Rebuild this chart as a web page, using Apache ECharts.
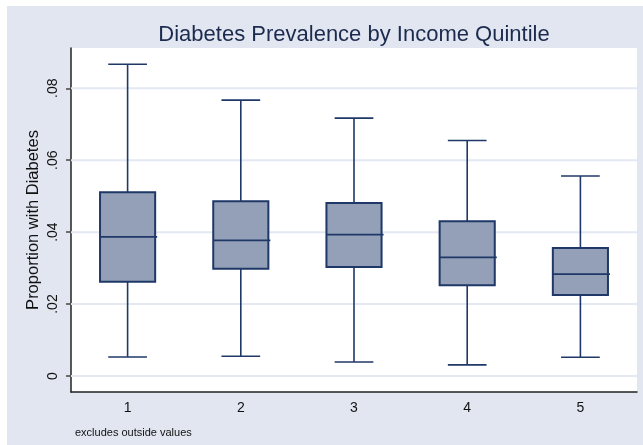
<!DOCTYPE html>
<html>
<head>
<meta charset="utf-8">
<script src="https://cdn.jsdelivr.net/npm/echarts@6/dist/echarts.min.js"></script>
<style>
html,body{margin:0;padding:0;background:#fff;}
#chart{width:643px;height:445px;}
</style>
</head>
<body>
<div id="chart"></div>
<script>
const categories = ['1', '2', '3', '4', '5'];
const lowerWhisker = [0.0053, 0.0055, 0.0039, 0.0031, 0.0052];
const q1 = [0.0262, 0.0298, 0.0303, 0.0252, 0.0225];
const median = [0.0387, 0.0377, 0.0393, 0.0330, 0.0283];
const q3 = [0.0511, 0.0486, 0.0481, 0.0430, 0.0356];
const upperWhisker = [0.0867, 0.0767, 0.0717, 0.0655, 0.0556];
const yTicks = [0, 0.02, 0.04, 0.06, 0.08];
const titleText = 'Diabetes Prevalence by Income Quintile';
const yAxisTitle = 'Proportion with Diabetes';
const noteText = 'excludes outside values';

const boxData = categories.map((c, i) => [i, lowerWhisker[i], q1[i], median[i], q3[i], upperWhisker[i]]);
const gridData = yTicks.map(v => [0, v]);

const NAVY = '#1f3868';
const FILL = '#93a0b7';
const FONT = '"Liberation Sans", Arial, sans-serif';

function renderBox(params, api) {
  const idx = api.value(0);
  const pLow = api.coord([idx, api.value(1)]);
  const pQ1 = api.coord([idx, api.value(2)]);
  const pMed = api.coord([idx, api.value(3)]);
  const pQ3 = api.coord([idx, api.value(4)]);
  const pHigh = api.coord([idx, api.value(5)]);
  const band = api.size([1, 0])[0];
  const bw = band * 0.487;
  const cw = band * 0.342;
  const x = pMed[0];
  const lineStyle = { stroke: NAVY, lineWidth: 1.6 };
  return {
    type: 'group',
    children: [
      { type: 'line', shape: { x1: x, y1: pQ3[1], x2: x, y2: pHigh[1] }, style: lineStyle },
      { type: 'line', shape: { x1: x, y1: pQ1[1], x2: x, y2: pLow[1] }, style: lineStyle },
      { type: 'line', shape: { x1: x - cw / 2, y1: pHigh[1], x2: x + cw / 2, y2: pHigh[1] }, style: lineStyle },
      { type: 'line', shape: { x1: x - cw / 2, y1: pLow[1], x2: x + cw / 2, y2: pLow[1] }, style: lineStyle },
      { type: 'rect', shape: { x: x - bw / 2, y: pQ3[1], width: bw, height: pQ1[1] - pQ3[1] },
        style: { fill: FILL, stroke: NAVY, lineWidth: 2 } },
      { type: 'line', shape: { x1: x - bw / 2, y1: pMed[1], x2: x + bw / 2 + 2, y2: pMed[1] }, style: { stroke: NAVY, lineWidth: 1.8 } }
    ]
  };
}

function renderGridLine(params, api) {
  const p = api.coord([0, api.value(1)]);
  const cs = params.coordSys;
  return {
    type: 'line',
    shape: { x1: cs.x, y1: p[1], x2: cs.x + cs.width, y2: p[1] },
    style: { stroke: '#e3e8f2', lineWidth: 2 }
  };
}

const chart = echarts.init(document.getElementById('chart'), null, { renderer: 'canvas' });
chart.setOption({
  animation: false,
  backgroundColor: '#ffffff',
  graphic: [
    { type: 'rect', left: 7, top: 6, shape: { width: 636, height: 439 }, style: { fill: '#e1e6f0' }, z: -10, silent: true },
    { type: 'text', x: 354, y: 35, z: 10,
      style: { text: titleText, fill: '#1c2a4e', font: '22px ' + FONT, textAlign: 'center', textVerticalAlign: 'middle' } },
    { type: 'text', x: 75, y: 433, z: 10,
      style: { text: noteText, fill: '#111', font: '11px ' + FONT, textAlign: 'left', textVerticalAlign: 'middle' } }
  ],
  grid: { left: 71, top: 48, right: 6, bottom: 53, show: true, backgroundColor: '#ffffff', borderWidth: 0 },
  xAxis: {
    type: 'category',
    data: categories,
    boundaryGap: true,
    axisLine: { show: true, onZero: false, lineStyle: { color: '#222', width: 1.5 } },
    axisTick: { show: false },
    axisLabel: { color: '#111', fontSize: 14, fontFamily: FONT, margin: 9 },
    splitLine: { show: false }
  },
  yAxis: {
    type: 'value',
    min: -0.00445,
    max: 0.0912,
    name: yAxisTitle,
    nameLocation: 'middle',
    nameRotate: 90,
    nameGap: 29,
    nameMoveOverlap: false,
    nameTextStyle: { color: '#111', fontSize: 16.5, fontFamily: FONT },
    axisLine: { show: true, lineStyle: { color: '#222', width: 1.5 } },
    axisTick: { show: true, customValues: yTicks, length: 5, lineStyle: { color: '#444', width: 1.5 } },
    axisLabel: {
      customValues: yTicks,
      rotate: 90,
      color: '#111', fontSize: 14, fontFamily: FONT, margin: 11,
      formatter: v => (v === 0 ? '0' : String(+v.toFixed(4)).replace(/^0\./, '.'))
    },
    splitLine: { show: false }
  },
  series: [
    {
      type: 'custom',
      z: 1,
      silent: true,
      renderItem: renderGridLine,
      encode: { x: 0, y: 1 },
      data: gridData
    },
    {
      type: 'custom',
      z: 5,
      renderItem: renderBox,
      encode: { x: 0, y: [1, 2, 3, 4, 5] },
      data: boxData
    }
  ]
});
</script>
</body>
</html>
